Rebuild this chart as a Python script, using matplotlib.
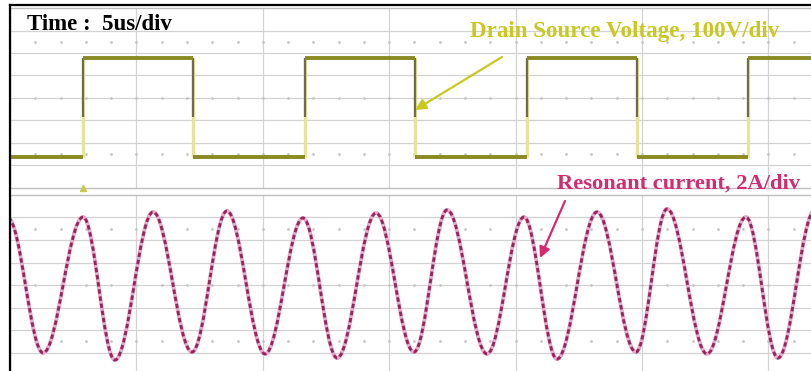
import numpy as np
import matplotlib.pyplot as plt
from matplotlib.path import Path
from matplotlib.patches import PathPatch
from matplotlib.lines import Line2D

W, H = 812, 371

# drain-source voltage: switching instants (us), first edge rising, low/high level (V)
vds_edges = [2.89, 7.24, 11.67, 16.02, 20.45, 24.80, 29.19]
vds_levels = [0, 440]

# resonant current: successive peaks / troughs (us, A)
ir_t = [-0.08, 1.31, 2.89, 4.15, 5.66, 7.20, 8.58, 10.09, 11.59, 12.94, 14.48, 15.98,
        17.29, 18.87, 20.33, 21.64, 23.22, 24.76, 25.99, 27.57, 29.11, 30.38, 31.84]
ir_a = [5.96, -6.04, 6.04, -6.67, 6.49, -5.96, 6.58, -6.13, 5.96, -6.49, 6.40, -5.96,
        6.67, -6.13, 6.04, -6.58, 6.49, -5.96, 6.76, -6.13, 6.04, -6.49, 6.67]

v_per_div = 100
a_per_div = 2
us_per_div = 5

px_per_us = 25.28
t_end = 820 / px_per_us

grid_c = '#d2d2d2'
dot_c = '#c2c2c2'

fig = plt.figure(figsize=(W / 100, H / 100), dpi=100)


def px_axes(left, top, right, bottom):
    ax = fig.add_axes([left / W, 1 - bottom / H, (right - left) / W, (bottom - top) / H])
    ax.set_xlim(0, t_end)
    ax.set_ylim(0, 8)
    ax.set_xticks([])
    ax.set_yticks([])
    for s in ax.spines.values():
        s.set_color('#bdbdbd')
        s.set_linewidth(1.0)
    for x in range(us_per_div, 35, us_per_div):
        ax.axvline(x, color=grid_c, lw=0.9, zorder=0)
    for y in range(1, 8):
        ax.axhline(y, color=grid_c, lw=0.9, zorder=0)
    # minor tick dots of the graticule
    tt = np.arange(1, 33)
    for y in (1.5, 4, 6.5):
        ax.plot(tt, np.full(len(tt), y), ls='none', marker='.', ms=1.8, color=dot_c, zorder=0)
    return ax


ax_v = px_axes(10, 8, 830, 188)
ax_i = px_axes(10, 195, 830, 375)

# ---- voltage trace (top) ----
v_off = 1.38
xs = [0] + vds_edges + [t_end]
lv = [v_off + vds_levels[k % 2] / v_per_div for k in range(len(xs) - 1)]
lo = v_off + vds_levels[0] / v_per_div
hi = v_off + vds_levels[1] / v_per_div
ax_v.vlines(vds_edges, lo, hi, color='#e4e49a', lw=2.4, zorder=2)
ax_v.vlines(vds_edges, lo + 0.4 * (hi - lo), hi, color='#6d6d4e', lw=1.6, zorder=3)
ax_v.hlines(lv, xs[:-1], xs[1:], color='#8a8a22', lw=2.8, zorder=4)
ax_v.plot(vds_edges[0], 0, marker='^', color='#c9c94a', ms=5, clip_on=False, zorder=5)

# ---- current trace (bottom), smooth curve through the extrema ----
k = 0.363
ys = [4 + a / a_per_div for a in ir_a]
verts = [(ir_t[0], ys[0])]
codes = [Path.MOVETO]
for i in range(1, len(ir_t)):
    dt = ir_t[i] - ir_t[i - 1]
    verts += [(ir_t[i - 1] + k * dt, ys[i - 1]), (ir_t[i] - k * dt, ys[i]), (ir_t[i], ys[i])]
    codes += [Path.CURVE4] * 3
path = Path(verts, codes)
ax_i.add_patch(PathPatch(path, fill=False, ec='#e8aacb', lw=2.8, zorder=3))
ax_i.add_patch(PathPatch(path, fill=False, ec='#96235a', lw=2.0, ls=(0, (1.6, 1.0)), zorder=4))

# ---- frame of the screenshot ----
fig.add_artist(Line2D([10.5 / W, 10.5 / W], [0, 1 - 5 / H], color='black', lw=1.6,
                      transform=fig.transFigure))
fig.add_artist(Line2D([10 / W, 1], [1 - 5 / H, 1 - 5 / H], color='black', lw=1.6,
                      transform=fig.transFigure))

# ---- labels ----
serif = ['Liberation Serif', 'DejaVu Serif']
fig.text(27 / W, 1 - 30 / H, 'Time :  5us/div', family=serif, weight='bold',
         fontsize=16.5, color='black', va='baseline', ha='left')
yel = '#c8c81e'
mag = '#d42a70'
fig.text(470 / W, 1 - 37 / H, 'Drain Source Voltage, 100V/div', family=serif,
         weight='bold', fontsize=16.6, color=yel, va='baseline', ha='left')
fig.text(557 / W, 1 - 189 / H, 'Resonant current, 2A/div', family=serif,
         weight='bold', fontsize=16.2, color=mag, va='baseline', ha='left')

fig.add_artist(plt.Annotation('', xy=(415, H - 110), xytext=(502, H - 57),
                              xycoords='figure pixels', textcoords='figure pixels',
                              arrowprops=dict(arrowstyle='-|>', color=yel, lw=1.6,
                                              mutation_scale=16, shrinkA=0, shrinkB=0)))
fig.add_artist(plt.Annotation('', xy=(540, H - 258), xytext=(565, H - 201),
                              xycoords='figure pixels', textcoords='figure pixels',
                              arrowprops=dict(arrowstyle='-|>', color=mag, lw=1.6,
                                              mutation_scale=16, shrinkA=0, shrinkB=0)))

fig.savefig('out.png', dpi=100, facecolor='white')
